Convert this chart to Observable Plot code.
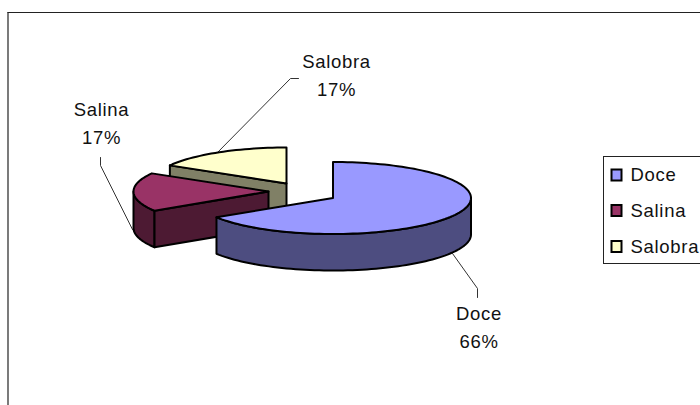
<!DOCTYPE html>
<html>
<head>
<meta charset="utf-8">
<script src="https://cdn.jsdelivr.net/npm/d3@7"></script>
<script src="https://cdn.jsdelivr.net/npm/@observablehq/plot@0.6"></script>
<style>html,body{margin:0;padding:0;background:#fff;overflow:hidden}svg{display:block}svg text{letter-spacing:.7px}</style>
</head>
<body>
<div id="chart"></div>
<script>
const categories = ["Doce", "Salina", "Salobra"];
const shares = [66, 17.4, 16.6];
const percentLabels = ["66%", "17%", "17%"];
const topColors = ["#9999FF", "#993366", "#FFFFCC"];
const sideColors = ["#4D4D80", "#4D1A33", "#808066"];
const apexX = [332.5, 268, 286];
const apexY = [197.5, 191, 183];
const radiusX = [138, 135, 135];
const labelX = [478.5, 101, 336];
const labelY = [314, 110, 62];
const legendY = [175, 210.5, 246.5];

const ry = 36, depth = 36.5;
const total = d3.sum(shares);
const ends = d3.cumsum(shares).map(v => v / total * 360);
const starts = [0, ...ends.slice(0, -1)];
const pt = (i, deg, dy = 0) => {
  const r = deg * Math.PI / 180;
  return {x: apexX[i] + radiusX[i] * Math.sin(r), y: apexY[i] - ry * Math.cos(r) + dy};
};
const arc = (i, a, b, dy = 0) => {
  const n = Math.max(2, Math.ceil(Math.abs(b - a) / 2));
  return d3.range(n + 1).map(k => pt(i, a + (b - a) * k / n, dy));
};
const apex = (i, dy = 0) => ({x: apexX[i], y: apexY[i] + dy});
const topFace = i => [apex(i), ...arc(i, starts[i], ends[i])];
const wall = (i, a, b) => [...arc(i, a, b), ...arc(i, b, a, depth)];
const cutFace = (i, deg) => [apex(i), pt(i, deg), pt(i, deg, depth), apex(i, depth)];

const poly = (pts, fill) => Plot.line(pts, {
  x: "x", y: "y", fill, stroke: "#000", strokeWidth: 2,
  curve: "linear-closed", strokeLinejoin: "round"
});
const line = pts => Plot.line(pts, {x: "x", y: "y", stroke: "#333", strokeWidth: 1});
const text = (t, x, y, anchor = "middle") => Plot.text([t], {
  x: () => x, y: () => y, text: d => d, textAnchor: anchor,
  fontSize: 18.5, fontFamily: "Liberation Sans, Arial, sans-serif", fill: "#111"
});

const leaders = [
  [{x: 452, y: 253}, {x: 477, y: 288}, {x: 477, y: 297}],
  [{x: 100, y: 157}, {x: 100, y: 165}, {x: 132, y: 229}],
  [{x: 217, y: 152}, {x: 290, y: 78}, {x: 298, y: 78}]
];

const chart = Plot.plot({
  width: 700, height: 405,
  marginTop: 0, marginRight: 0, marginBottom: 0, marginLeft: 0,
  x: {type: "identity", axis: null},
  y: {type: "identity", axis: null},
  style: {background: "#fff"},
  marks: [
    Plot.ruleX([7.5], {y1: 12, y2: 405, stroke: "#222", strokeWidth: 1.2}),
    Plot.ruleY([12], {x1: 7.5, x2: 700, stroke: "#222", strokeWidth: 1.2}),
    ...leaders.map(line),
    poly(cutFace(2, starts[2]), sideColors[2]),
    poly(topFace(2), topColors[2]),
    poly(wall(1, starts[1], 270), sideColors[1]),
    poly(cutFace(1, starts[1]), sideColors[1]),
    poly(topFace(1), topColors[1]),
    poly(wall(0, 90, ends[0]), sideColors[0]),
    poly(topFace(0), topColors[0]),
    ...categories.flatMap((c, i) => [
      text(c, labelX[i], labelY[i]),
      text(percentLabels[i], labelX[i], labelY[i] + 28)
    ]),
    Plot.rect([0], {x1: () => 603.5, x2: () => 706, y1: () => 156.5, y2: () => 263.5, fill: "#fff", stroke: "#222", strokeWidth: 1}),
    ...categories.flatMap((c, i) => [
      Plot.rect([c], {x1: () => 611.5, x2: () => 621.5, y1: () => legendY[i] - 5.5, y2: () => legendY[i] + 5.5, fill: topColors[i], stroke: "#000", strokeWidth: 2}),
      text(c, 630, legendY[i], "start")
    ])
  ]
});
document.getElementById("chart").append(chart);
</script>
</body>
</html>
